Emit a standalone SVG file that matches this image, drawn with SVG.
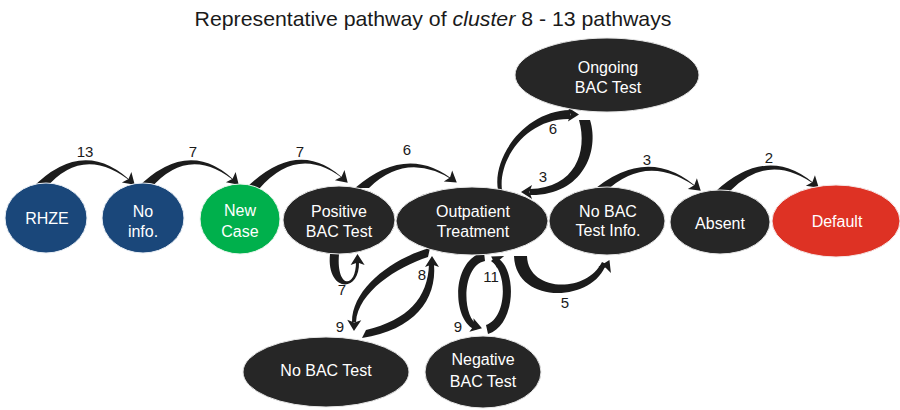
<svg xmlns="http://www.w3.org/2000/svg" width="900" height="410" viewBox="0 0 900 410">
<style>
.bg{fill:#ffffff}
.title{font-family:"Liberation Sans",Arial,sans-serif;font-size:21px;fill:#1a1a1a;text-anchor:middle}
.blue{fill:#1a477a;stroke:#e8eef5;stroke-width:1}
.green{fill:#00b04c;stroke:#e8f5ec;stroke-width:1}
.dark{fill:#262626;stroke:#e6e6e6;stroke-width:1}
.red{fill:#de3224;stroke:#f5e6e6;stroke-width:1}
.nt{font-family:"Liberation Sans",Arial,sans-serif;font-size:16px;fill:#ffffff;text-anchor:middle}
.band{fill:#1c1c1c}
.guide{fill:none;stroke:none;marker-end:url(#ah)}
.lbl{font-family:"Liberation Sans",Arial,sans-serif;font-size:15px;fill:#1a1a1a;text-anchor:middle}
</style>
<defs>
<marker id="ah" markerUnits="userSpaceOnUse" markerWidth="14" markerHeight="16" refX="10" refY="7" orient="auto" overflow="visible">
<path d="M0,0 L11,7 L0,14 L2.5,7 Z" fill="#1c1c1c"/>
</marker>
</defs>
<rect class="bg" x="0" y="0" width="900" height="410"/>
<text class="title" x="433" y="26" textLength="477" lengthAdjust="spacingAndGlyphs">Representative pathway of <tspan font-style="italic">cluster</tspan> 8 - 13 pathways</text>

<g id="connectors">
<g id="e-rhze-noinfo">
<path class="band" d="M31,189 Q84,134 134,184 Q84,142 45,189 Z"/>
<path class="guide" d="M38,187 Q84,138 134,184"/>
</g>
<g id="e-noinfo-newcase">
<path class="band" d="M136,189 Q190,134 238,184 Q190,142 150,189 Z"/>
<path class="guide" d="M143,187 Q190,138 238,184"/>
</g>
<g id="e-newcase-positive">
<path class="band" d="M245,189 Q300,134 347,182 Q300,142 259,189 Z"/>
<path class="guide" d="M252,187 Q300,138 347,182"/>
</g>
<g id="e-positive-outpatient">
<path class="band" d="M355,188 Q408,142 456,182 Q408,150 369,188 Z"/>
<path class="guide" d="M362,186 Q408,146 456,182"/>
</g>
<g id="e-outpatient-ongoing">
<path class="band" d="M498,190 C492,158 524,111 570,110 L570,119 C526,118 498,160 502,190 Z"/>
<path class="guide" d="M500,190 C495,159 525,114 578,114.5"/>
</g>
<g id="e-ongoing-outpatient">
<path class="band" d="M590,120 C600,152 582,196 530,195 L530,189 C575,188 588,152 579,120 Z"/>
<path class="guide" d="M585,121 C595,150 580,192 522,192"/>
</g>
<g id="e-nobacinfo-absent">
<path class="band" d="M590,193 Q648,142 700,190 Q648,150 604,193 Z"/>
<path class="guide" d="M597,192 Q648,146 700,190"/>
</g>
<g id="e-absent-default">
<path class="band" d="M716,191 Q770,142 818,187 Q770,150 730,191 Z"/>
<path class="guide" d="M723,190 Q770,146 818,187"/>
</g>
<g id="e-positive-self">
<path class="band" d="M330,254 C326,292 360,294 359,262 L356,262 C356,289 336,289 339,254 Z"/>
<path class="guide" d="M334,254 C331,290 358,292 357.5,255"/>
</g>
<g id="e-outpatient-nobactest">
<path class="band" d="M430,248 C393,258 352,288 352,322 L356,322 C358,292 397,267 428,257 Z"/>
<path class="guide" d="M428,251 C395,262 355,290 354,330"/>
</g>
<g id="e-nobactest-outpatient">
<path class="band" d="M362,338 C414,330 437,300 434,264 L429,264 C428,298 408,320 366,330 Z"/>
<path class="guide" d="M364,334 C410,325 432,300 432,257"/>
</g>
<g id="e-outpatient-negative">
<path class="band" d="M484,252 C450,260 452,322 476,330 L478,325 C462,318 461,266 485,261 Z"/>
<path class="guide" d="M484,256 C455,262 455,320 481,328"/>
</g>
<g id="e-negative-outpatient">
<path class="band" d="M488,334 C516,326 518,268 496,257 L491,261 C508,272 507,318 486,325 Z"/>
<path class="guide" d="M490,330 C512,322 514,270 492,257"/>
</g>
<g id="e-outpatient-nobacinfo">
<path class="band" d="M514,256 C516,306 594,302 606,264 L602,262 C586,294 528,292 527,256 Z"/>
<path class="guide" d="M520,256 C522,300 590,300 609,261"/>
</g>
<text class="lbl" x="85" y="157">13</text>
<text class="lbl" x="193" y="157">7</text>
<text class="lbl" x="300" y="157">7</text>
<text class="lbl" x="407" y="155">6</text>
<text class="lbl" x="553" y="134">6</text>
<text class="lbl" x="543" y="182">3</text>
<text class="lbl" x="647" y="165">3</text>
<text class="lbl" x="769" y="163">2</text>
<text class="lbl" x="342" y="295">7</text>
<text class="lbl" x="340" y="332">9</text>
<text class="lbl" x="422" y="280">8</text>
<text class="lbl" x="458" y="332">9</text>
<text class="lbl" x="491" y="282">11</text>
<text class="lbl" x="565" y="308">5</text>
</g>

<g id="n-rhze">
<ellipse class="blue" cx="46" cy="218" rx="41" ry="35"/>
<text class="nt" x="47" y="224">RHZE</text>
</g>
<g id="n-noinfo">
<ellipse class="blue" cx="143" cy="218" rx="41" ry="35"/>
<text class="nt" x="143" y="217">No</text>
<text class="nt" x="143" y="237">info.</text>
</g>
<g id="n-newcase">
<ellipse class="green" cx="240" cy="219" rx="40" ry="35"/>
<text class="nt" x="240" y="216">New</text>
<text class="nt" x="240" y="237">Case</text>
</g>
<g id="n-positive">
<ellipse class="dark" cx="339" cy="220" rx="56" ry="34"/>
<text class="nt" x="339" y="217">Positive</text>
<text class="nt" x="339" y="237">BAC Test</text>
</g>
<g id="n-outpatient">
<ellipse class="dark" cx="472" cy="221" rx="76" ry="34"/>
<text class="nt" x="473" y="217">Outpatient</text>
<text class="nt" x="473" y="237">Treatment</text>
</g>
<g id="n-nobacinfo">
<ellipse class="dark" cx="607" cy="221" rx="58" ry="34"/>
<text class="nt" x="608" y="217">No BAC</text>
<text class="nt" x="608" y="236">Test Info.</text>
</g>
<g id="n-absent">
<ellipse class="dark" cx="720" cy="222" rx="50" ry="32"/>
<text class="nt" x="720" y="229">Absent</text>
</g>
<g id="n-default">
<ellipse class="red" cx="836" cy="221" rx="64" ry="36"/>
<text class="nt" x="837" y="227">Default</text>
</g>
<g id="n-ongoing">
<ellipse class="dark" cx="607" cy="75" rx="92" ry="37"/>
<text class="nt" x="608" y="73">Ongoing</text>
<text class="nt" x="608" y="93">BAC Test</text>
</g>
<g id="n-nobactest">
<ellipse class="dark" cx="326" cy="372" rx="83" ry="35"/>
<text class="nt" x="326" y="376">No BAC Test</text>
</g>
<g id="n-negative">
<ellipse class="dark" cx="483" cy="372" rx="58" ry="36"/>
<text class="nt" x="483" y="365">Negative</text>
<text class="nt" x="483" y="387">BAC Test</text>
</g>
</svg>
